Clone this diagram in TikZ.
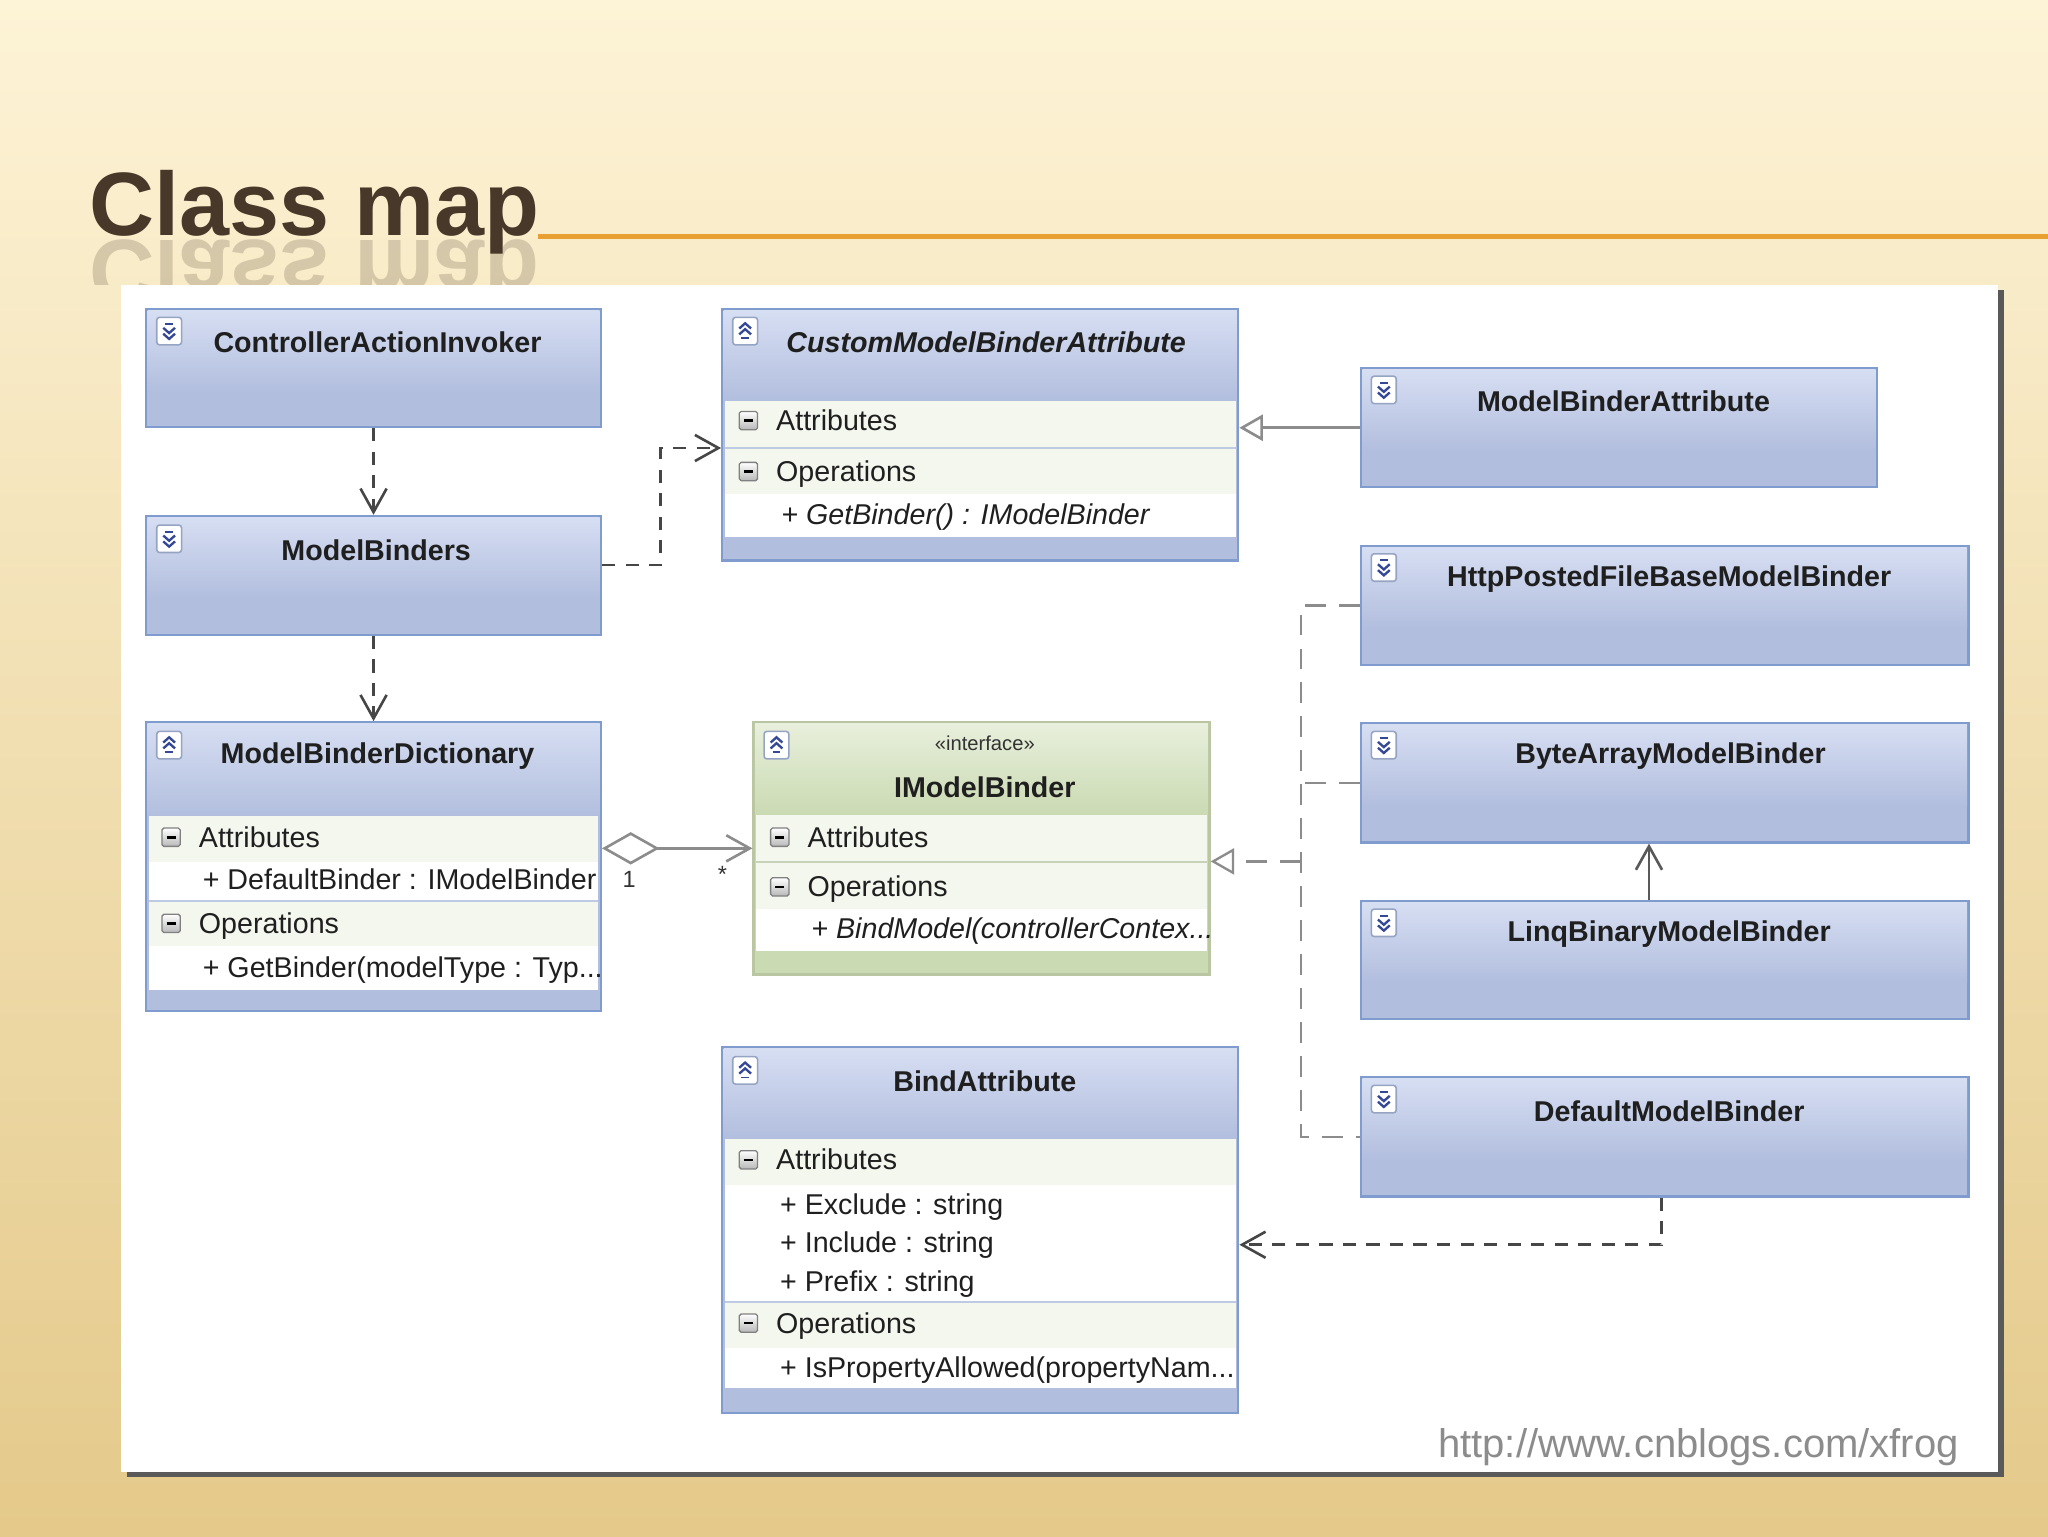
\documentclass[tikz,border=0pt]{standalone}
\usepackage{fontspec}
\setmainfont{Liberation Sans}
\usetikzlibrary{arrows.meta,fit}

\definecolor{bgtop}{RGB}{253,243,214}
\definecolor{bgmid}{RGB}{250,234,188}
\definecolor{bgbot}{RGB}{228,201,138}
\definecolor{titlebrown}{RGB}{72,56,42}
\definecolor{rulecol}{RGB}{232,160,50}
\definecolor{boxedge}{RGB}{128,156,206}
\definecolor{boxtop}{RGB}{214,222,242}
\definecolor{boxbot}{RGB}{178,190,222}
\definecolor{greenedge}{RGB}{186,198,162}
\definecolor{greentop}{RGB}{232,239,220}
\definecolor{greenbot}{RGB}{202,218,178}
\definecolor{rowbg}{RGB}{244,247,238}
\definecolor{sepblue}{RGB}{190,202,228}
\definecolor{sepgreen}{RGB}{200,210,184}
\definecolor{iconblue}{RGB}{52,72,150}
\definecolor{iconedge}{RGB}{150,164,196}
\definecolor{linegray}{RGB}{140,140,140}
\definecolor{linedark}{RGB}{70,70,70}

\tikzset{
  expander/.pic={
    \draw[draw=iconedge, fill=white, rounded corners=1.5pt, line width=0.3mm] (0,0) rectangle (19,21);
    \draw[iconblue, line width=0.35mm] (6.5,5) -- (12.5,5);
    \draw[iconblue, line width=0.45mm] (5,8) -- (9.5,12) -- (14,8) (5,12.5) -- (9.5,16.5) -- (14,12.5);
  },
  collapser/.pic={
    \draw[draw=iconedge, fill=white, rounded corners=1.5pt, line width=0.3mm] (0,0) rectangle (19,21);
    \draw[iconblue, line width=0.35mm] (6.5,16) -- (12.5,16);
    \draw[iconblue, line width=0.45mm] (5,13) -- (9.5,9) -- (14,13) (5,8.5) -- (9.5,4.5) -- (14,8.5);
  },
  minusbox/.pic={
    \draw[top color=white, bottom color=black!28, draw=black!50, line width=0.25mm, rounded corners=1pt] (0,0) rectangle (14,14);
    \draw[black, line width=0.5mm] (3.5,7) -- (10.5,7);
  }
}

\begin{document}
\begin{tikzpicture}[x=0.25mm, y=-0.25mm,
  classbox/.style={draw=boxedge, line width=0.45mm, fill=boxbot, inner sep=0pt},
  ifacebox/.style={draw=greenedge, line width=0.45mm, fill=greenbot, inner sep=0pt},
  headshade/.style={top color=boxtop, bottom color=boxbot},
  greenshade/.style={top color=greentop, bottom color=greenbot},
  classname/.style={font=\fontsize{15.6}{16}\selectfont\bfseries, text=black!88, inner sep=0pt},
  member/.style={font=\fontsize{15.6}{16}\selectfont, anchor=west, inner sep=0pt, text=black!88, text height=14pt, text depth=3pt},
  depend/.style={draw=linedark, line width=0.5mm, dash pattern=on 2.5mm off 2mm, -{Straight Barb[length=4.5mm, width=5mm]}},
  general/.style={draw=linegray, line width=0.5mm, -{Triangle[open, length=4.5mm, width=5mm, fill=white]}},
  realdash/.style={draw=linegray, line width=0.45mm, dash pattern=on 4mm off 2.5mm},
  realize/.style={realdash, -{Triangle[open, length=4.5mm, width=5mm, fill=white]}},
  aggr/.style={draw=linegray, line width=0.5mm, {Diamond[open, length=11mm, width=6.2mm, fill=white]}-{Straight Barb[length=4.5mm, width=5mm]}},
  inherit/.style={draw=black!65, line width=0.5mm, -{Straight Barb[length=4.5mm, width=5mm]}},
  mult/.style={font=\fontsize{12.8}{13}\selectfont, text=black!80, inner sep=0pt}
]
\useasboundingbox (0,0) rectangle (1568,1176);

% slide background
\shade[top color=bgtop, middle color=bgmid, bottom color=bgbot] (0,0) rectangle (1568,1176);
\node[anchor=base west, font=\fontsize{49}{49}\selectfont\bfseries, text=titlebrown, inner sep=0pt] (title) at (68,180) {Class map};
\begin{scope}
\clip (60,182) rectangle (430,218);
\begin{scope}[shift={(68,184)}, yscale=-1]
\node[anchor=base west, font=\fontsize{49}{49}\selectfont\bfseries, text=titlebrown, opacity=0.2, inner sep=0pt, transform shape] (titlemirror) at (0,0) {Class map};
\end{scope}
\end{scope}
\draw[rulecol, line width=0.8mm] (412,181) -- (1568,181);

% white panel with shadow
\fill[black!65] (97,222) rectangle (1534,1131);
\fill[white] (93,218) rectangle (1530,1127);

% ControllerActionInvoker
\node[classbox, fit={(112,237) (460,327)}] (cai) {};
\shade[headshade] (113,238) rectangle (459,300);
\pic at (120,243) {expander};
\node[classname] at (289,262) {ControllerActionInvoker};

% ModelBinders
\node[classbox, fit={(112,395) (460,486)}] (mbs) {};
\shade[headshade] (113,396) rectangle (459,458);
\pic at (120,402) {expander};
\node[classname] at (288,421) {ModelBinders};

% ModelBinderDictionary
\node[classbox, fit={(112,553) (460,774)}] (mbd) {};
\shade[headshade] (113,554) rectangle (459,625);
\fill[rowbg] (114,625) rectangle (458,660);
\fill[white] (114,660) rectangle (458,690);
\fill[rowbg] (114,690) rectangle (458,724);
\fill[white] (114,724) rectangle (458,758);
\draw[sepblue, line width=0.3mm] (114,690) -- (458,690);
\pic at (120,560) {collapser};
\node[classname] at (289,579) {ModelBinderDictionary};
\pic at (124,634) {minusbox};
\node[member] at (152,641) {Attributes};
\node[member] at (155,673) {+ DefaultBinder : IModelBinder};
\pic at (124,700) {minusbox};
\node[member] at (152,707) {Operations};
\node[member] at (155,741) {+ GetBinder(modelType : Typ...};

% CustomModelBinderAttribute
\node[classbox, fit={(553,237) (948,429)}] (cmba) {};
\shade[headshade] (554,238) rectangle (947,307);
\fill[rowbg] (555,307) rectangle (946,378);
\fill[white] (555,378) rectangle (946,411);
\draw[sepblue, line width=0.3mm] (555,343) -- (946,343);
\pic at (561,243) {collapser};
\node[classname, font=\fontsize{15.6}{16}\selectfont\bfseries\itshape] at (755,262) {CustomModelBinderAttribute};
\pic at (566,315) {minusbox};
\node[member] at (594,322) {Attributes};
\pic at (566,354) {minusbox};
\node[member] at (594,361) {Operations};
\node[member, font=\fontsize{15.6}{16}\selectfont\itshape] at (598,394) {+ GetBinder() : IModelBinder};

% IModelBinder
\node[ifacebox, fit={(577,553) (926,746)}] (imb) {};
\shade[greenshade] (578,554) rectangle (925,624);
\fill[rowbg] (579,624) rectangle (924,696);
\fill[white] (579,696) rectangle (924,728);
\draw[sepgreen, line width=0.3mm] (579,660) -- (924,660);
\pic at (585,560) {collapser};
\node[font=\fontsize{11}{11}\selectfont, text=black!80, inner sep=0pt] at (754,569) {«interface»};
\node[classname] at (754,603) {IModelBinder};
\pic at (590,634) {minusbox};
\node[member] at (618,641) {Attributes};
\pic at (590,672) {minusbox};
\node[member] at (618,679) {Operations};
\node[member, font=\fontsize{15.6}{16}\selectfont\itshape] at (621,711) {+ BindModel(controllerContex...};

% BindAttribute
\node[classbox, fit={(553,802) (948,1082)}] (bind) {};
\shade[headshade] (554,803) rectangle (947,872);
\fill[rowbg] (555,872) rectangle (946,907);
\fill[white] (555,907) rectangle (946,997);
\fill[rowbg] (555,997) rectangle (946,1032);
\fill[white] (555,1032) rectangle (946,1063);
\draw[sepblue, line width=0.3mm] (555,997) -- (946,997);
\pic at (561,809) {collapser};
\node[classname] at (754,828) {BindAttribute};
\pic at (566,881) {minusbox};
\node[member] at (594,888) {Attributes};
\node[member] at (597,922) {+ Exclude : string};
\node[member] at (597,951) {+ Include : string};
\node[member] at (597,981) {+ Prefix : string};
\pic at (566,1006) {minusbox};
\node[member] at (594,1013) {Operations};
\node[member] at (597,1047) {+ IsPropertyAllowed(propertyNam...};

% right column
\node[classbox, fit={(1042,282) (1437,373)}] (mba) {};
\shade[headshade] (1043,283) rectangle (1436,345);
\pic at (1050,288) {expander};
\node[classname] at (1243,307) {ModelBinderAttribute};

\node[classbox, fit={(1042,418) (1507,509)}] (hpf) {};
\shade[headshade] (1043,419) rectangle (1506,481);
\pic at (1050,424) {expander};
\node[classname] at (1278,443) {HttpPostedFileBaseModelBinder};

\node[classbox, fit={(1042,554) (1507,645)}] (bam) {};
\shade[headshade] (1043,555) rectangle (1506,617);
\pic at (1050,560) {expander};
\node[classname] at (1279,579) {ByteArrayModelBinder};

\node[classbox, fit={(1042,690) (1507,780)}] (lbm) {};
\shade[headshade] (1043,691) rectangle (1506,752);
\pic at (1050,696) {expander};
\node[classname] at (1278,715) {LinqBinaryModelBinder};

\node[classbox, fit={(1042,825) (1507,916)}] (dmb) {};
\shade[headshade] (1043,826) rectangle (1506,888);
\pic at (1050,831) {expander};
\node[classname] at (1278,851) {DefaultModelBinder};

% connectors
\draw[depend] (cai.south) -- (mbs.north);
\draw[depend] (mbs.south) -- (mbd.north);
\draw[depend] ([yshift=2mm]mbs.east) -- ++(45,0) |- ([yshift=-2.5mm]cmba.west);
\draw[general] (mba.west) -- (cmba.east |- mba.west);
\draw[aggr] (mbd.east |- imb.west) -- node[mult, pos=0.18, below=12pt] {1} node[mult, pos=0.8, below=9pt] {*} (imb.west);
\coordinate (imbport) at ([yshift=-2.5mm]imb.east);
\draw[realdash] (hpf.west) -- ++(-45,0) coordinate (bus) |- (dmb.west);
\draw[realdash] (bam.west) -- (bus |- bam.west);
\draw[realize] (bus |- imbport) -- (imbport);
\draw[inherit] ([xshift=-3mm]lbm.north) -- ([xshift=-3mm]bam.south);
\draw[depend] ([xshift=-0.6mm]dmb.south) |- ([yshift=-2.75mm]bind.east);

\node[anchor=base east, font=\fontsize{21.8}{22}\selectfont, text=black!45, inner sep=0pt] (url) at (1500,1116) {http://www.cnblogs.com/xfrog};
\end{tikzpicture}
\end{document}
